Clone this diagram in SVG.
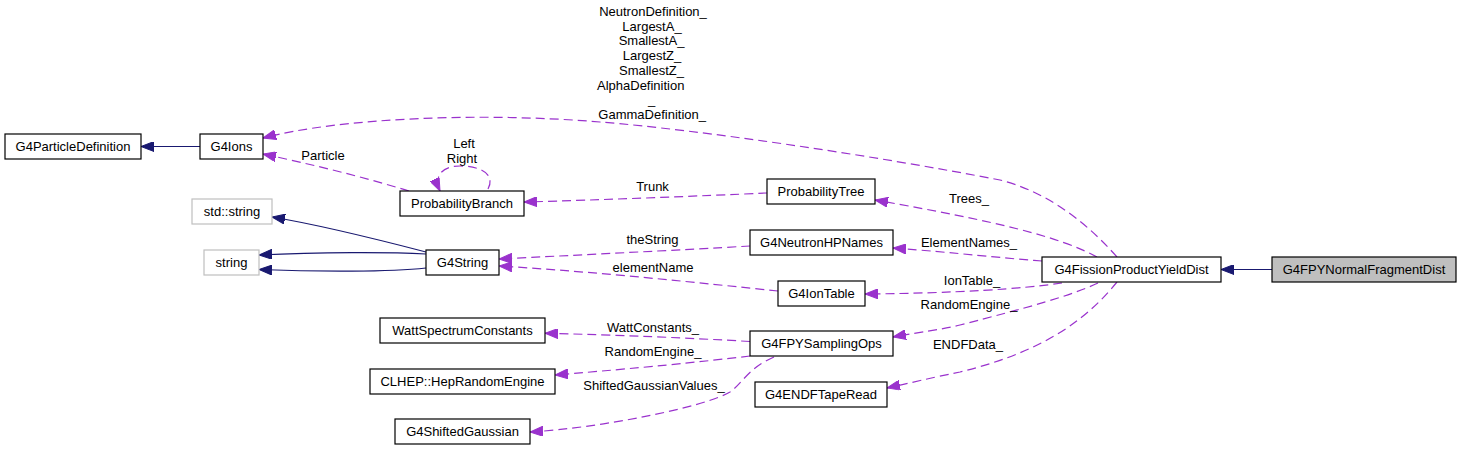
<svg xmlns="http://www.w3.org/2000/svg" width="1461" height="451" viewBox="0 0 1461 451">
<style>
  text { font-family: "Liberation Sans", Arial, sans-serif; font-size: 13px; fill: #000; }
  .node rect { fill: #ffffff; stroke: #000000; stroke-width: 1.2; }
  .node.ext rect { stroke: #bfbfbf; }
  .node.main rect { fill: #bfbfbf; }
  .node text { text-anchor: middle; }
  .lbl { text-anchor: middle; }
  .inh { fill: none; stroke: #191970; stroke-width: 1.2; marker-end: url(#navyArrow); }
  .use { fill: none; stroke: #9a32cd; stroke-width: 1.2; stroke-dasharray: 9 5; marker-end: url(#purpleArrow); }
</style>
<defs>
  <marker id="navyArrow" markerUnits="userSpaceOnUse" viewBox="0 0 13 10" markerWidth="13" markerHeight="10" refX="13" refY="5" orient="auto">
    <path d="M0,0 L13,5 L0,10 z" fill="#191970" stroke="#191970" stroke-width="1"/>
  </marker>
  <marker id="purpleArrow" markerUnits="userSpaceOnUse" viewBox="0 0 13 10" markerWidth="13" markerHeight="10" refX="13" refY="5" orient="auto">
    <path d="M0,0 L13,5 L0,10 z" fill="#9a32cd" stroke="#9a32cd" stroke-width="1"/>
  </marker>
</defs>
<rect x="0" y="0" width="1461" height="451" fill="#ffffff"/>

<g id="connectors">
  <path class="inh" d="M200,146.5 L141,146.5"/>
  <path class="inh" d="M426,252 C380,240 320,225 272,217"/>
  <path class="inh" d="M426,254 C390,252 320,252 259,255"/>
  <path class="inh" d="M426,268 C390,272 320,272 259,269.5"/>
  <path class="inh" d="M1272,269.5 L1221,269.5"/>

  <path class="use" d="M1117,257 C1080,215 1040,190 1000,180 C870,155 700,130 600,122 C480,112 340,118 263,138"/>
  <path class="use" d="M409,191 C360,176 310,164 263,154"/>
  <path class="use" d="M488,189 C496,174 480,166 460,166 C440,166 434,178 440,191"/>
  <path class="use" d="M767,193 C700,196 600,200 524,202"/>
  <path class="use" d="M1097,257 C1060,237 1000,222 875,200"/>
  <path class="use" d="M1042,261 C1000,258 960,253 893,248"/>
  <path class="use" d="M750,246 C680,250 580,255 499,259"/>
  <path class="use" d="M778,291 C700,283 600,272 499,266"/>
  <path class="use" d="M1062,283 C1020,289 960,293 865,294"/>
  <path class="use" d="M1098,283 C1070,296 1030,307 960,325 C940,330 920,332 893,337"/>
  <path class="use" d="M1117,282 C1090,315 1050,350 960,372 C930,378 910,383 887,388"/>
  <path class="use" d="M750,341.5 C690,338 620,335 545,333.3"/>
  <path class="use" d="M750,356 C700,362 640,368 555,375"/>
  <path class="use" d="M774,357 C748,368 742,384 730,392 C705,407 600,428 530,432"/>

  <text class="lbl" x="653" y="16">NeutronDefinition_</text>
  <text class="lbl" x="652" y="30.7">LargestA_</text>
  <text class="lbl" x="651.5" y="45.4">SmallestA_</text>
  <text class="lbl" x="652" y="60.1">LargestZ_</text>
  <text class="lbl" x="651.5" y="74.8">SmallestZ_</text>
  <text x="597" y="89.5">AlphaDefinition</text>
  <text class="lbl" x="651.7" y="104.2">_</text>
  <text class="lbl" x="652.2" y="118.9">GammaDefinition_</text>

  <text class="lbl" x="323" y="159.5">Particle</text>
  <text class="lbl" x="464" y="148">Left</text>
  <text class="lbl" x="462" y="162.7">Right</text>
  <text class="lbl" x="652.5" y="191">Trunk</text>
  <text class="lbl" x="969" y="203">Trees_</text>
  <text class="lbl" x="969" y="247">ElementNames_</text>
  <text class="lbl" x="652.5" y="243.5">theString</text>
  <text class="lbl" x="653" y="272">elementName</text>
  <text class="lbl" x="972" y="285">IonTable_</text>
  <text class="lbl" x="969" y="309">RandomEngine_</text>
  <text class="lbl" x="968" y="349">ENDFData_</text>
  <text class="lbl" x="653" y="331.5">WattConstants_</text>
  <text class="lbl" x="653" y="356">RandomEngine_</text>
  <text class="lbl" x="654" y="390">ShiftedGaussianValues_</text>
</g>

<g id="G4ParticleDefinition" class="node"><rect x="5" y="134" width="136" height="25"/><text x="73" y="151">G4ParticleDefinition</text></g>
<g id="G4Ions" class="node"><rect x="200" y="134" width="63" height="25"/><text x="231.5" y="151">G4Ions</text></g>
<g id="ProbabilityBranch" class="node"><rect x="400" y="191" width="124" height="25"/><text x="462" y="208">ProbabilityBranch</text></g>
<g id="std_string" class="node ext"><rect x="192" y="199" width="80" height="25"/><text x="232" y="216">std::string</text></g>
<g id="string" class="node ext"><rect x="204" y="250" width="55" height="25"/><text x="231.5" y="267">string</text></g>
<g id="G4String" class="node"><rect x="426" y="250" width="73" height="25"/><text x="462.5" y="267">G4String</text></g>
<g id="WattSpectrumConstants" class="node"><rect x="380" y="318" width="165" height="25"/><text x="462.5" y="335">WattSpectrumConstants</text></g>
<g id="CLHEP_HepRandomEngine" class="node"><rect x="370" y="369" width="185" height="25"/><text x="462.5" y="386">CLHEP::HepRandomEngine</text></g>
<g id="G4ShiftedGaussian" class="node"><rect x="395" y="419" width="135" height="25"/><text x="462.5" y="436">G4ShiftedGaussian</text></g>
<g id="ProbabilityTree" class="node"><rect x="767" y="179" width="108" height="25"/><text x="821" y="196">ProbabilityTree</text></g>
<g id="G4NeutronHPNames" class="node"><rect x="750" y="230" width="143" height="25"/><text x="821.5" y="247">G4NeutronHPNames</text></g>
<g id="G4IonTable" class="node"><rect x="778" y="281" width="87" height="25"/><text x="821.5" y="298">G4IonTable</text></g>
<g id="G4FPYSamplingOps" class="node"><rect x="750" y="331" width="143" height="25"/><text x="821.5" y="348">G4FPYSamplingOps</text></g>
<g id="G4ENDFTapeRead" class="node"><rect x="755" y="382" width="132" height="25"/><text x="821" y="399">G4ENDFTapeRead</text></g>
<g id="G4FissionProductYieldDist" class="node"><rect x="1042" y="257" width="179" height="25"/><text x="1131.5" y="274">G4FissionProductYieldDist</text></g>
<g id="G4FPYNormalFragmentDist" class="node main"><rect x="1272" y="257" width="184" height="25"/><text x="1364" y="274">G4FPYNormalFragmentDist</text></g>
</svg>
